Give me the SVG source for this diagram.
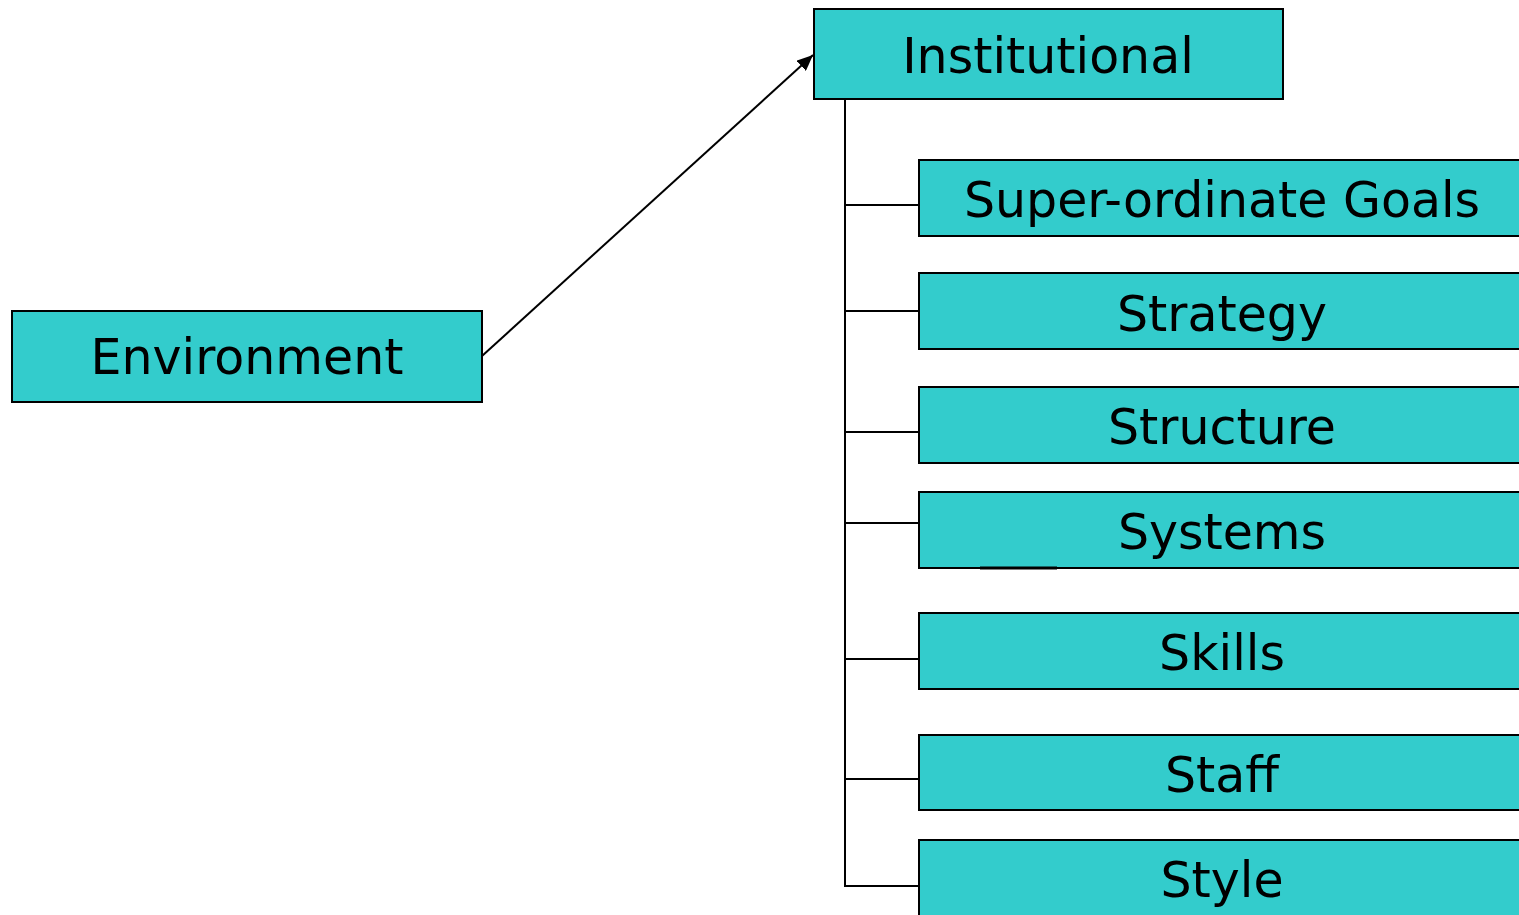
<svg xmlns="http://www.w3.org/2000/svg" width="1519" height="915" viewBox="0 0 1519 915">
<defs>
<marker id="arr" markerWidth="16" markerHeight="14" refX="16" refY="7" orient="auto" markerUnits="userSpaceOnUse" viewBox="0 0 16 14">
<path d="M0,0 L16,7 L0,14 z" fill="#000"/>
</marker>
</defs>
<style>
.box{fill:#33CCCC;stroke:#000;stroke-width:2}
.lbl{font-family:"DejaVu Sans",Verdana,sans-serif;font-size:49px;fill:#000;text-anchor:middle}
.con{stroke:#000;stroke-width:2;fill:none}
</style>
<rect width="1519" height="915" fill="#fff"/>
<g id="connectors">
<line class="con" x1="482" y1="356" x2="813" y2="55" marker-end="url(#arr)"/>
<path class="con" d="M845,99 V886 H919"/>
<line class="con" x1="845" y1="205" x2="919" y2="205"/>
<line class="con" x1="845" y1="311" x2="919" y2="311"/>
<line class="con" x1="845" y1="432" x2="919" y2="432"/>
<line class="con" x1="845" y1="523" x2="919" y2="523"/>
<line class="con" x1="845" y1="659" x2="919" y2="659"/>
<line class="con" x1="845" y1="779" x2="919" y2="779"/>
</g>
<g id="environment"><rect class="box" x="12" y="311" width="470" height="91"/><text class="lbl" x="247" y="374">Environment</text></g>
<g id="institutional"><rect class="box" x="814" y="9" width="469" height="90"/><text class="lbl" x="1048" y="73">Institutional</text></g>
<g id="goals"><rect class="box" x="919" y="160" width="620" height="76"/><text class="lbl" x="1222" y="217">Super-ordinate Goals</text></g>
<g id="strategy"><rect class="box" x="919" y="273" width="620" height="76"/><text class="lbl" x="1222" y="331">Strategy</text></g>
<g id="structure"><rect class="box" x="919" y="387" width="620" height="76"/><text class="lbl" x="1222" y="444">Structure</text></g>
<g id="systems"><rect class="box" x="919" y="492" width="620" height="76"/><text class="lbl" x="1222" y="549">Systems</text><line x1="980" y1="568" x2="1057" y2="568" stroke="#000" stroke-width="3"/></g>
<g id="skills"><rect class="box" x="919" y="613" width="620" height="76"/><text class="lbl" x="1222" y="670">Skills</text></g>
<g id="staff"><rect class="box" x="919" y="735" width="620" height="75"/><text class="lbl" x="1222" y="792">Staff</text></g>
<g id="style"><rect class="box" x="919" y="840" width="620" height="90"/><text class="lbl" x="1222" y="897">Style</text></g>
</svg>
